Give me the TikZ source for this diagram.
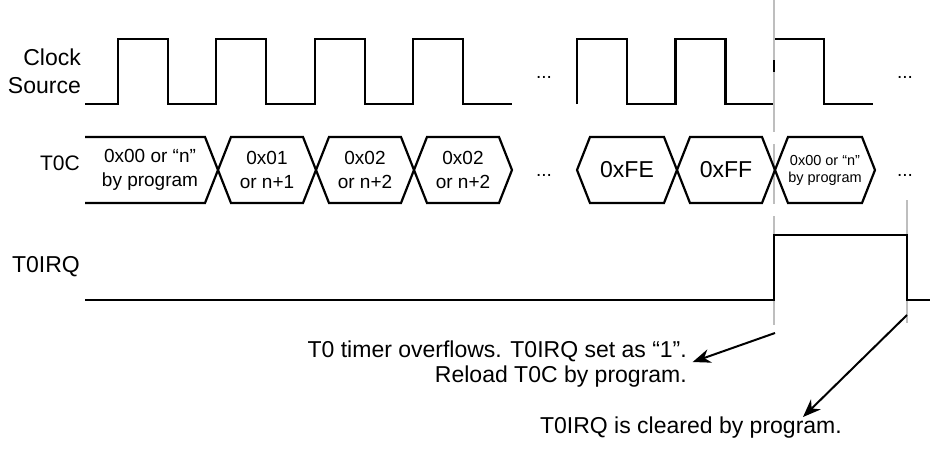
\documentclass[tikz,border=0pt]{standalone}
\usepackage{fontspec}
\setmainfont{Liberation Sans}
\usetikzlibrary{arrows.meta, calc}
\definecolor{sigcolor}{RGB}{0,0,0}
\definecolor{guidecolor}{RGB}{190,190,190}
\tikzset{
  sig/.style   = {draw=sigcolor, line width=2.2pt, line join=miter},
  lbl/.style   = {font=\fontsize{23}{28}\selectfont, align=right, anchor=east, inner sep=0pt},
  val/.style   = {font=\fontsize{19}{24}\selectfont, align=center, inner sep=0pt},
  bigval/.style= {font=\fontsize{23}{28}\selectfont, inner sep=0pt},
  smallval/.style = {font=\fontsize{14.5}{17}\selectfont, align=center, inner sep=0pt},
  dots/.style  = {font=\fontsize{19}{24}\selectfont, inner sep=0pt},
  note/.style  = {font=\fontsize{23}{25}\selectfont, align=right, anchor=east, inner sep=0pt},
  guide/.style = {draw=guidecolor, line width=2.2pt, dash pattern=on 60pt off 12pt},
  arrow/.style = {-{Stealth[length=18pt, width=14pt]}, line width=2pt, color=sigcolor},
}

\begin{document}
\begin{tikzpicture}[x=1pt, y=-1pt]
  \useasboundingbox (0,0) rectangle (930,453);
  % signal names
  \node[lbl] (clk) at (81,71) {Clock\\Source};
  \node[lbl, font=\fontsize{21}{24}\selectfont] (tc) at (80,163) {T0C};
  \node[lbl] (irq) at (80,267) {T0IRQ};
  % clock source
  \draw[sig] (85,104) \foreach \t in {118,216.3,314.6,413} {
      -- (\t,104) -- (\t,39) -- (\t+50,39) -- (\t+50,104) } -- (512,104);
  \draw[sig] (577,104) -- (577,39) -- (627,39) -- (627,104)
    \foreach \t in {675.5,774} {
      -- (\t,104) -- (\t,39) -- (\t+50,39) -- (\t+50,104) } -- (873,104);
  \node[dots] (d1) at (544,77) {...};
  \node[dots] (d2) at (905,77) {...};
  % guides
  \draw[guide] (774,0) -- (774,325);
  \draw[guide] (907,200) -- (907,323);
  % T0C bus
  \draw[sig] (85,137) -- (205,137) -- (218,170) -- (205,203) -- (85,203);
  \foreach \l/\r in {218/316, 316/414, 414/512, 577/677, 677/775, 775/875}
    \draw[sig] (\l,170) -- (\l+13,137) -- (\r-13,137) -- (\r,170)
      -- (\r-13,203) -- (\l+13,203) -- cycle;
  \node[val] (v0) at (150,170) {0x00 or “n”\\by program};
  \node[val] (v1) at (267,170) {0x01\\or n+1};
  \node[val] (v2) at (365,170) {0x02\\or n+2};
  \node[val] (v3) at (463,170) {0x02\\or n+2};
  \node[bigval] (vfe) at (627,170) {0xFE};
  \node[bigval] (vff) at (726,170) {0xFF};
  \node[smallval] (vnew) at (825,170) {0x00 or “n”\\by program};
  \node[dots] (d3) at (544,175) {...};
  \node[dots] (d4) at (905,175) {...};
  % T0IRQ
  \draw[sig] (85,300) -- (774,300) -- (774,235) -- (907,235) -- (907,300) -- (930,300);
  % notes
  \node[note] (note1) at (687,364) {T0 timer overflows. T0IRQ set as “1”.\\Reload T0C by program.};
  \node[note] (note2) at (842,428) {T0IRQ is cleared by program.};
  \coordinate (ovf) at (775,333);
  \coordinate (clr) at (907,315);
  \coordinate (clrtip) at (803,417);
  \draw[arrow, shorten >=6pt] (ovf) -- (note1.east);
  \draw[arrow] (clr) -- (clrtip);
\end{tikzpicture}
\end{document}
